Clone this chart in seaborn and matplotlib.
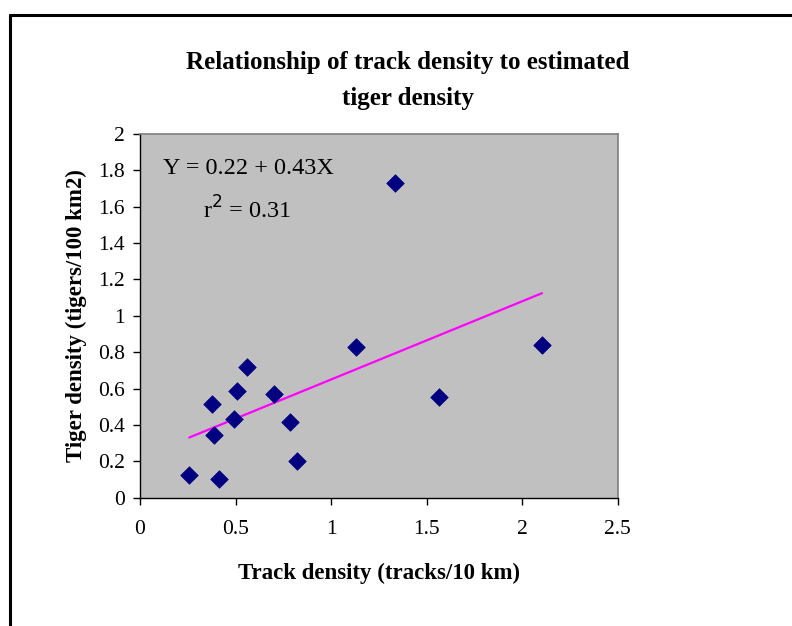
import numpy as np
import pandas as pd
import matplotlib
matplotlib.use("Agg")
import matplotlib.pyplot as plt
import seaborn as sns
from matplotlib.lines import Line2D

# Data
track_density = [0.258, 0.415, 0.375, 0.386, 0.490, 0.508, 0.562, 0.700,
                 0.783, 0.823, 1.129, 1.336, 1.566, 2.104]
tiger_density = [0.123, 0.101, 0.517, 0.343, 0.433, 0.585, 0.717, 0.572,
                 0.418, 0.200, 0.827, 1.729, 0.552, 0.838]
fit_intercept = 0.22
fit_slope = 0.43
x_ticks = [0, 0.5, 1, 1.5, 2, 2.5]
y_ticks = [0, 0.2, 0.4, 0.6, 0.8, 1, 1.2, 1.4, 1.6, 1.8, 2]

df = pd.DataFrame({"x": track_density, "y": tiger_density})
xs = np.sort(np.array(track_density))
fit_df = pd.DataFrame({"x": xs, "y": fit_intercept + fit_slope * xs})

sns.set_style("white")
plt.rcParams['font.family'] = ['Liberation Serif', 'DejaVu Serif']
plt.rcParams['text.color'] = 'black'
plt.rcParams['axes.labelcolor'] = 'black'
plt.rcParams['xtick.color'] = 'black'
plt.rcParams['ytick.color'] = 'black'

fig = plt.figure(figsize=(7.92, 6.26), dpi=100)
W, H = 792, 626
ax = fig.add_axes([140 / W, 1 - 497.7 / H, (617.7 - 140) / W, (497.7 - 134) / H])
ax.set_facecolor('#C0C0C0')

sns.lineplot(data=fit_df, x="x", y="y", ax=ax, color='#FF00FF', lw=1.6, zorder=2)
sns.scatterplot(data=df, x="x", y="y", ax=ax, marker='D', s=80,
                color='#000080', edgecolor='#000080', linewidth=0.5, zorder=3)

ax.set_xlim(0, 2.5)
ax.set_ylim(0, 2)
ax.set_xticks(x_ticks)
ax.set_xticklabels(['0', '0.5', '1', '1.5', '2', '2.5'])
ax.set_yticks(y_ticks)
ax.set_yticklabels(['0', '0.2', '0.4', '0.6', '0.8', '1', '1.2', '1.4', '1.6', '1.8', '2'])
ax.tick_params(axis='both', direction='out', length=5, width=1, color='black',
               labelcolor='black', labelsize=15.5, pad=6, left=True, bottom=True)
ax.tick_params(axis='x', pad=11)

for side in ['top', 'right']:
    ax.spines[side].set_color('#808080')
    ax.spines[side].set_linewidth(1.2)
for side in ['left', 'bottom']:
    ax.spines[side].set_color('black')
    ax.spines[side].set_linewidth(1.0)

ax.set_xlabel('Track density (tracks/10 km)', fontsize=16.5, fontweight='bold',
              labelpad=17, color='black')
ax.set_ylabel('Tiger density (tigers/100 km2)', fontsize=16.5, fontweight='bold',
              labelpad=8, color='black')

ax.text(0.12, 1.81, 'Y = 0.22 + 0.43X', fontsize=17.5, ha='left', va='center', color='black')
ax.text(0.33, 1.58, r'r$^{2}$ = 0.31', fontsize=17.5, ha='left', va='center', color='black')

fig.text(408 / W, 1 - 80.5 / H, 'Relationship of track density to estimated\ntiger density',
         ha='center', va='center', fontsize=18, fontweight='bold', linespacing=1.7,
         color='black')

# outer chart frame (top and left edges visible)
fig.add_artist(Line2D([9.5 / W, 1.0], [1 - 15 / H, 1 - 15 / H], color='black', lw=2.2,
                      transform=fig.transFigure))
fig.add_artist(Line2D([9.5 / W, 9.5 / W], [1 - 15 / H, 0], color='black', lw=2.2,
                      transform=fig.transFigure))

fig.savefig('out.png', dpi=100)
